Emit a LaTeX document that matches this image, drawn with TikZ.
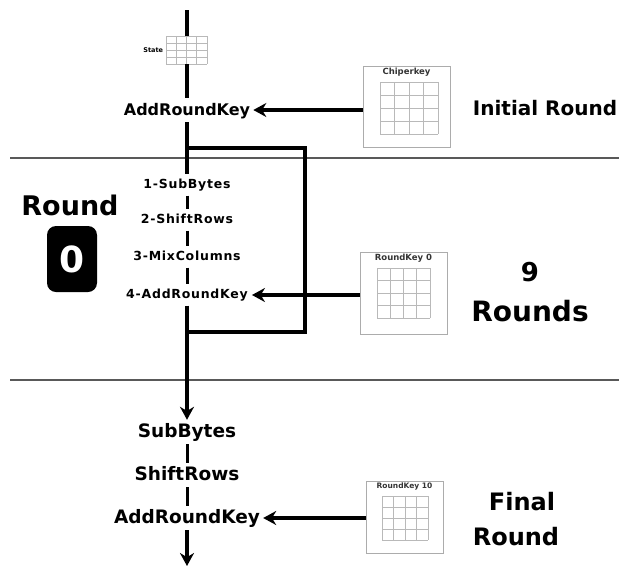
\documentclass[tikz,border=0pt]{standalone}
\usepackage{fontspec}
\setmainfont{DejaVu Sans}
\newfontfamily\stepfont[LetterSpace=6]{DejaVu Sans}
\usetikzlibrary{positioning,arrows.meta}

% 4x4 grid of cells: top-left x, top-left y, cell width, cell height
\newcommand{\cellgrid}[4]{%
  \foreach \k in {0,...,4} {
    \draw[gridln] ({#1+\k*#3},#2) -- ++(0,{4*#4});
    \draw[gridln] (#1,{#2+\k*#4}) -- ++({4*#3},0);
  }}

\tikzset{
  gridln/.style={draw=gray!55, line width=0.6pt},
  keybox/.style={draw=gray!65, line width=1pt, inner sep=0pt},
  keytitle/.style={font=\bfseries\fontsize{8.5}{8.5}\selectfont, inner sep=1pt, text=black!80},
  flow/.style={line width=3.4pt},
  link/.style={line width=3pt},
  sepline/.style={draw=gray!70!black, line width=1.2pt},
  op/.style={font=\bfseries\fontsize{18.5}{18.5}\selectfont, text height=14pt, text depth=4pt, inner sep=3pt},
  substep/.style={font=\stepfont\bfseries\fontsize{12.5}{12.5}\selectfont, text height=10pt, text depth=3pt, inner sep=4pt},
  side/.style={font=\bfseries\fontsize{#1}{#1}\selectfont, inner sep=0pt},
}

\begin{document}
\begin{tikzpicture}[x=1pt, y=-1pt, >={Stealth[length=13pt,width=14pt]}]
  \useasboundingbox (0,0) rectangle (619,566);

  % round separators
  \draw[sepline] (10,158) -- (619,158);
  \draw[sepline] (10,380) -- (619,380);

  % initial round
  \coordinate (top) at (187,10);
  \node[minimum width=41, minimum height=28, inner sep=0pt] (state) at (187,50) {};
  \cellgrid{166}{36}{10.25}{7}
  \node[left=3pt of state, font=\bfseries\fontsize{6.5}{6.5}\selectfont, inner sep=0pt] {State};
  \node[op, font=\bfseries\fontsize{16}{16}\selectfont] (ark0) at (187,110) {AddRoundKey};

  \node[keybox, minimum width=87, minimum height=81] (ck) at (406.5,106.5) {};
  \node[keytitle, below=1pt of ck.north] {Chiperkey};
  \cellgrid{380}{82}{14.5}{13}
  \node[side=20] (init) at (545,108) {Initial Round};

  % 9 middle rounds
  \node[side=27] (rnd) at (70,205) {Round};
  \node[fill=black, rounded corners=9pt, minimum width=50, minimum height=66,
        text=white, font=\bfseries\fontsize{36}{36}\selectfont] (zero) at (72,259) {0};

  \node[substep] (sub1) at (187,185) {1-SubBytes};
  \node[substep] (shr1) at (187,220) {2-ShiftRows};
  \node[substep] (mix1) at (187,257) {3-MixColumns};
  \node[substep] (ark1) at (187,295) {4-AddRoundKey};

  \node[keybox, minimum width=87, minimum height=82] (rk0) at (403.5,293) {};
  \node[keytitle, below=1pt of rk0.north] {RoundKey 0};
  \cellgrid{377}{268}{13.25}{12.5}
  \node[side=26] (nine) at (530,272) {9};
  \node[side=28, below=18pt of nine] (rounds) {Rounds};

  % final round
  \node[op] (sub2) at (187,432) {SubBytes};
  \node[op] (shr2) at (187,475) {ShiftRows};
  \node[op] (ark2) at (187,518) {AddRoundKey};
  \coordinate (bottom) at (187,566);

  \node[keybox, minimum width=77, minimum height=72] (rk10) at (404.5,517) {};
  \node[keytitle, font=\bfseries\fontsize{7.5}{7.5}\selectfont, below=1pt of rk10.north] {RoundKey 10};
  \cellgrid{382}{496}{11.5}{11}
  \node[side=24] (fin) at (522,502) {Final};
  \node[side=24] (finr) at (516,537) {Round};

  % data path
  \draw[flow] (top) -- (state);
  \draw[flow] (state) -- (ark0);
  \draw[flow] (ark0) -- (sub1);
  \draw[link] (sub1) -- (shr1);
  \draw[link] (shr1) -- (mix1);
  \draw[link] (mix1) -- (ark1);
  \draw[flow,->] (ark1) -- (sub2);
  \draw[link] (sub2) -- (shr2);
  \draw[link] (shr2) -- (ark2);
  \draw[flow,->] (ark2) -- (bottom);

  % loop back of the 9 rounds
  \coordinate (lpa) at (187,148);
  \coordinate (lpb) at (305,332);
  \coordinate (lpc) at (187,332);
  \draw[flow] (lpa) -| (lpb) -- (lpc);

  % round keys
  \draw[flow,->] (ck.west |- ark0.east) -- (ark0.east);
  \draw[flow,->] (rk0.west |- ark1.east) -- (ark1.east);
  \draw[flow,->] (rk10.west |- ark2.east) -- (ark2.east);
\end{tikzpicture}
\end{document}
